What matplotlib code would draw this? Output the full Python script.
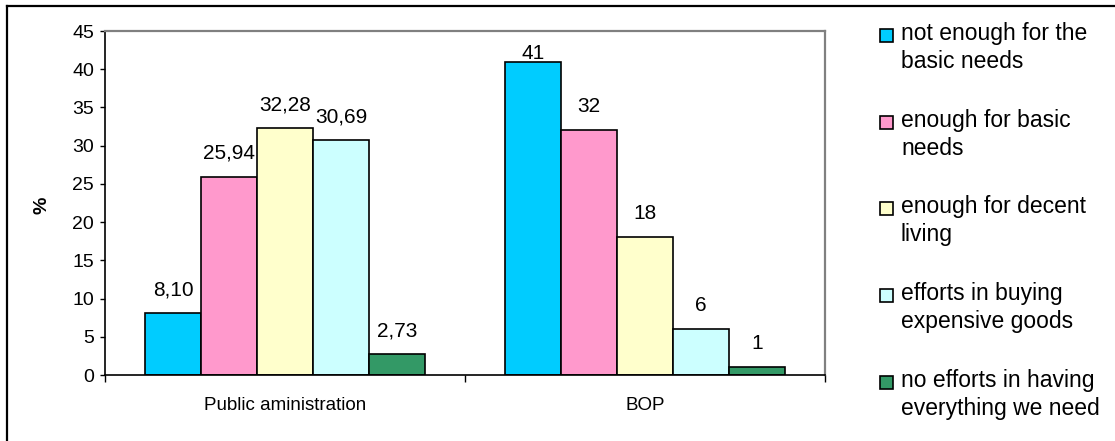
import numpy as np
import matplotlib
matplotlib.use("Agg")
import matplotlib.pyplot as plt
from matplotlib.lines import Line2D
from matplotlib.patches import Rectangle

plt.rcParams['font.family'] = ['Liberation Sans', 'DejaVu Sans']

# Income perception by sector, in percent
groups = ["Public aministration", "BOP"]
series = [
    "not enough for the\nbasic needs",
    "enough for basic\nneeds",
    "enough for decent\nliving",
    "efforts in buying\nexpensive goods",
    "no efforts in having\neverything we need",
]
public_admin = [8.10, 25.94, 32.28, 30.69, 2.73]
bop = [41, 32, 18, 6, 1]
colors = ["#00CCFF", "#FF99CC", "#FFFFCC", "#CCFFFF", "#339966"]

public_labels = [f"{v:.2f}".replace(".", ",") for v in public_admin]
bop_labels = [f"{v:.0f}" for v in bop]

fig = plt.figure(figsize=(11.15, 4.41), dpi=100)
W, H = 1115, 441
ax = fig.add_axes([105 / W, 1 - 375 / H, 720 / W, 344 / H])

bar_w = 0.1555
centers = np.arange(len(groups)) + 0.5
values = np.array([public_admin, bop])
labels = [public_labels, bop_labels]

gap = 2.35          # space between bar top and its label, in data units
label_ceiling = 41.3  # keep labels inside the plot area

for i in range(len(series)):
    xs = centers + (i - 2) * bar_w
    ax.bar(xs, values[:, i], width=bar_w, color=colors[i],
           edgecolor="black", linewidth=1.2, zorder=2)
    for g in range(len(groups)):
        v = values[g, i]
        ax.text(xs[g], min(v + gap, label_ceiling), labels[g][i],
                ha="center", va="baseline", fontsize=15)

ax.set_xlim(0, 2)
ax.set_ylim(0, 45)
ax.set_yticks(np.arange(0, 46, 5))
ax.tick_params(axis="y", direction="out", length=3.8, width=1, labelsize=14, pad=4)

# category boundaries carry the tick marks, names sit in between
ax.set_xticks([0, 1, 2])
ax.set_xticklabels([])
ax.set_xticks(centers, minor=True)
ax.set_xticklabels(groups, minor=True, fontsize=13.5)
ax.tick_params(axis="x", which="major", direction="out", length=5, width=1)
ax.tick_params(axis="x", which="minor", length=0, pad=16)

for side in ["top", "right"]:
    ax.spines[side].set_color("#808080")
    ax.spines[side].set_linewidth(1.6)
ax.spines["left"].set_linewidth(1.2)
ax.spines["bottom"].set_linewidth(1.2)

fig.text(42 / W, 1 - 205 / H, "%", rotation=90, fontsize=14, fontweight="bold",
         ha="center", va="center")

# legend, one square per series, aligned with the first text line
entry_y = [35, 122, 208, 295, 382]
for name, col, y in zip(series, colors, entry_y):
    fig.patches.append(Rectangle((880 / W, 1 - (y + 6.5) / H), 13 / W, 13 / H,
                                 transform=fig.transFigure, facecolor=col,
                                 edgecolor="black", linewidth=1.2))
    fig.text(901 / W, 1 - (y - 13) / H, name, fontsize=16.5, ha="left",
             va="top", linespacing=1.27)

# frame along top and left edges
fig.lines.append(Line2D([7 / W, 1.0], [1 - 6 / H, 1 - 6 / H],
                        transform=fig.transFigure, color="black", linewidth=1.6))
fig.lines.append(Line2D([7 / W, 7 / W], [0, 1 - 6 / H],
                        transform=fig.transFigure, color="black", linewidth=1.6))

fig.savefig("out.png", dpi=100)
